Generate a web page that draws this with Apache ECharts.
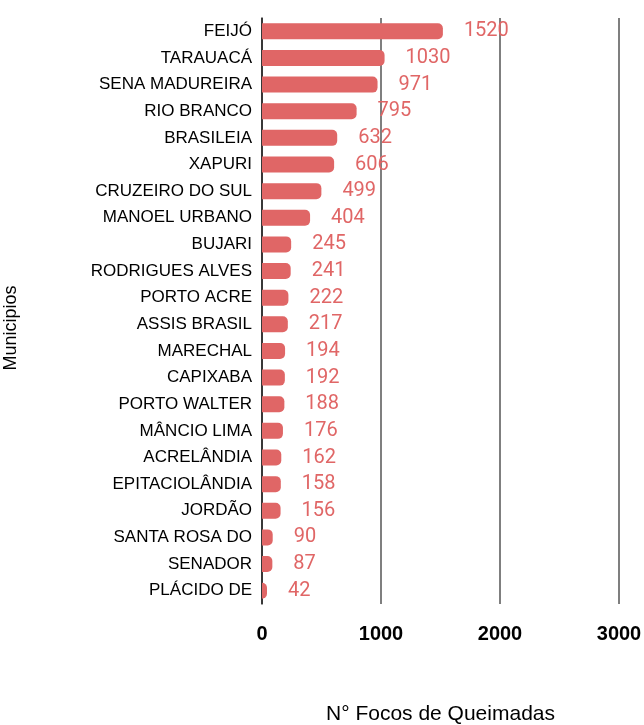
<!DOCTYPE html>
<html><head><meta charset="utf-8">
<script src="https://cdn.jsdelivr.net/npm/echarts@6/dist/echarts.min.js"></script>
<style>html,body{margin:0;padding:0;background:#fff}#c{width:644px;height:725px}</style>
</head><body><div id="c"></div>
<script>
const categories = ["FEIJÓ","TARAUACÁ","SENA MADUREIRA","RIO BRANCO","BRASILEIA","XAPURI","CRUZEIRO DO SUL","MANOEL URBANO","BUJARI","RODRIGUES ALVES","PORTO ACRE","ASSIS BRASIL","MARECHAL","CAPIXABA","PORTO WALTER","MÂNCIO LIMA","ACRELÂNDIA","EPITACIOLÂNDIA","JORDÃO","SANTA ROSA DO","SENADOR","PLÁCIDO DE"];
const values = [1520,1030,971,795,632,606,499,404,245,241,222,217,194,192,188,176,162,158,156,90,87,42];
const xTicks = [0,1000,2000,3000];

const chart = echarts.init(document.getElementById('c'));
chart.setOption({
  animation:false,
  grid:{left:262,right:25,top:18,bottom:121,containLabel:false,outerBoundsMode:'none'},
  xAxis:{type:'value',min:xTicks[0],max:xTicks[xTicks.length-1],interval:1000,
    name:'N° Focos de Queimadas',nameLocation:'middle',nameGap:100,
    nameTextStyle:{fontFamily:'Liberation Sans',fontSize:21,color:'#000'},
    axisLine:{show:false},axisTick:{show:false},
    axisLabel:{fontFamily:'Liberation Sans',fontWeight:'bold',fontSize:20,color:'#000',margin:20,formatter:v=>String(v)},
    splitLine:{lineStyle:{color:'#555',width:1.5}}},
  yAxis:{type:'category',data:categories,inverse:true,
    name:'Municipios',nameLocation:'middle',nameGap:242,nameRotate:90,
    nameTextStyle:{fontFamily:'Liberation Sans',fontSize:18,color:'#000',padding:[0,34,0,0]},
    axisLine:{show:true,lineStyle:{color:'#222',width:1.5}},axisTick:{show:false},
    axisLabel:{fontFamily:'Liberation Sans',fontSize:17,color:'#000',margin:10}},
  series:[{type:'bar',data:values,barWidth:16,
    itemStyle:{color:'#e06666',borderRadius:[0,5,5,0]},
    label:{show:true,position:'right',distance:21,fontFamily:'Roboto',fontSize:20,color:'#e06666'}}]
});
</script></body></html>
